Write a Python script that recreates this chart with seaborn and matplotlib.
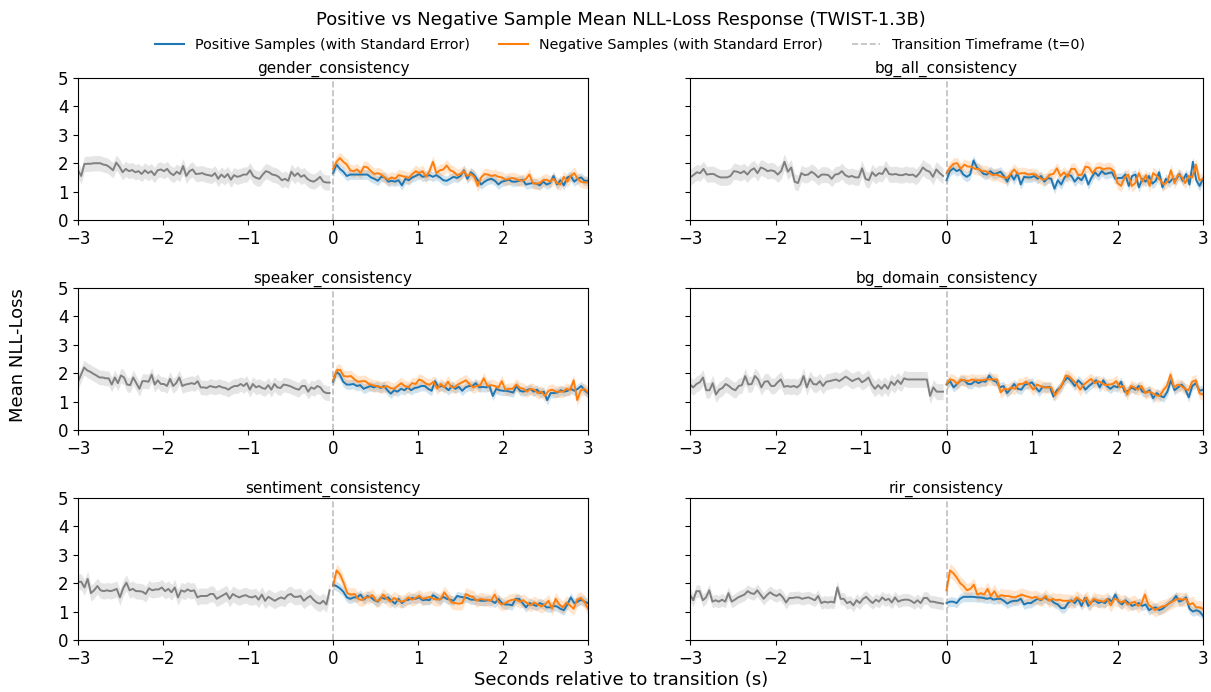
import numpy as np
import matplotlib
matplotlib.use("Agg")
import matplotlib.pyplot as plt
import seaborn as sns
import pandas as pd
from matplotlib.lines import Line2D

panel_names = ["gender_consistency", "bg_all_consistency", "speaker_consistency",
               "bg_domain_consistency", "sentiment_consistency", "rir_consistency"]

gender_pre = [1.75, 1.55, 1.97, 1.98, 1.98, 2.0, 2.0, 2.0, 1.95, 1.93, 1.85, 1.75, 2.02, 1.88, 1.68, 1.8, 1.72, 1.76, 1.68, 1.72, 1.62, 1.75, 1.65, 1.72, 1.58, 1.75, 1.78, 1.72, 1.8, 1.65, 1.58, 1.7, 1.62, 1.9, 1.55, 1.72, 1.78, 1.62, 1.63, 1.65, 1.6, 1.58, 1.55, 1.65, 1.45, 1.6, 1.5, 1.62, 1.42, 1.58, 1.52, 1.55, 1.6, 1.6, 1.75, 1.55, 1.48, 1.45, 1.6, 1.72, 1.68, 1.6, 1.58, 1.52, 1.4, 1.45, 1.38, 1.7, 1.55, 1.65, 1.52, 1.58, 1.45, 1.38, 1.35, 1.42, 1.52, 1.35, 1.32, 1.32]
gender_pos = [1.65, 1.95, 1.8, 1.7, 1.55, 1.6, 1.6, 1.6, 1.6, 1.6, 1.6, 1.5, 1.45, 1.38, 1.52, 1.5, 1.35, 1.38, 1.35, 1.4, 1.22, 1.45, 1.4, 1.5, 1.55, 1.62, 1.52, 1.55, 1.58, 1.52, 1.58, 1.5, 1.4, 1.38, 1.45, 1.52, 1.48, 1.55, 1.75, 1.45, 1.68, 1.58, 1.4, 1.25, 1.35, 1.42, 1.45, 1.38, 1.25, 1.35, 1.38, 1.42, 1.35, 1.35, 1.38, 1.42, 1.25, 1.28, 1.3, 1.28, 1.22, 1.35, 1.25, 1.3, 1.55, 1.25, 1.4, 1.22, 1.5, 1.55, 1.35, 1.45, 1.5, 1.38, 1.38]
gender_neg = [1.8, 2.05, 2.18, 2.05, 1.95, 1.75, 1.72, 1.78, 1.65, 1.88, 1.85, 1.72, 1.62, 1.65, 1.6, 1.5, 1.42, 1.5, 1.45, 1.58, 1.55, 1.52, 1.48, 1.62, 1.72, 1.65, 1.72, 1.52, 1.72, 2.05, 1.65, 1.75, 1.78, 1.92, 1.75, 1.7, 1.58, 1.62, 1.72, 1.55, 1.62, 1.52, 1.2, 1.5, 1.62, 1.6, 1.55, 1.58, 1.52, 1.5, 1.42, 1.45, 1.48, 1.45, 1.4, 1.38, 1.45, 1.6, 1.3, 1.28, 1.3, 1.4, 1.42, 1.35, 1.45, 1.3, 1.25, 1.52, 1.35, 1.55, 1.65, 1.45, 1.35, 1.32, 1.32]

bgall_pre = [1.5, 1.58, 1.68, 1.65, 1.8, 1.6, 1.62, 1.62, 1.55, 1.5, 1.5, 1.5, 1.55, 1.72, 1.7, 1.65, 1.72, 1.6, 1.75, 1.82, 1.65, 1.85, 1.8, 1.72, 1.75, 1.72, 1.6, 1.72, 2.05, 1.7, 1.85, 1.35, 1.3, 1.65, 1.58, 1.6, 1.7, 1.62, 1.5, 1.6, 1.6, 1.58, 1.45, 1.6, 1.62, 1.72, 1.58, 1.52, 1.55, 1.5, 1.5, 1.82, 1.45, 1.4, 1.68, 1.55, 1.65, 1.62, 1.82, 1.62, 1.6, 1.62, 1.58, 1.58, 1.62, 1.58, 1.6, 1.52, 1.65, 1.85, 1.75, 1.7, 1.52, 1.78, 1.65, 1.55]
bgall_pos = [1.4, 1.72, 1.82, 1.72, 1.78, 1.6, 1.52, 1.6, 2.1, 1.85, 1.75, 1.62, 1.6, 1.72, 1.62, 1.65, 1.7, 1.55, 1.35, 1.62, 1.42, 1.65, 1.25, 1.52, 1.5, 1.5, 1.55, 1.45, 1.55, 1.35, 1.48, 1.45, 1.1, 1.4, 1.25, 1.5, 1.6, 1.55, 1.35, 1.5, 1.4, 1.6, 1.25, 1.5, 1.68, 1.55, 1.72, 1.62, 1.65, 1.68, 1.45, 1.48, 1.48, 1.6, 1.2, 1.55, 1.6, 1.15, 1.45, 1.35, 1.55, 1.28, 1.38, 1.68, 1.15, 1.45, 1.32, 1.45, 1.42, 1.62, 1.38, 1.62, 1.25, 2.05, 1.4, 1.2, 1.45]
bgall_neg = [1.65, 1.85, 1.98, 2.0, 1.8, 1.95, 1.88, 1.88, 1.8, 1.8, 1.72, 1.72, 1.65, 1.58, 1.6, 1.55, 1.5, 1.48, 1.62, 1.78, 1.62, 1.65, 1.65, 1.6, 1.62, 1.6, 1.5, 1.42, 1.45, 1.6, 1.62, 1.82, 1.55, 1.68, 1.52, 1.8, 1.8, 1.58, 1.6, 1.88, 1.85, 1.65, 1.82, 1.85, 1.78, 1.82, 1.82, 1.72, 1.3, 1.2, 1.5, 1.6, 1.2, 1.3, 1.65, 1.35, 1.58, 1.2, 1.65, 1.55, 1.4, 1.25, 1.35, 1.75, 1.3, 1.6, 1.52, 1.3, 1.55, 1.5, 1.95, 1.4, 1.45]

speaker_pre = [1.7, 1.95, 2.2, 2.1, 2.05, 1.98, 1.92, 1.85, 1.85, 1.82, 1.82, 1.6, 1.85, 1.65, 1.92, 1.85, 1.6, 1.58, 1.85, 1.65, 1.45, 1.72, 1.72, 1.7, 1.95, 1.6, 1.75, 1.62, 1.62, 1.55, 1.8, 1.55, 1.65, 1.85, 1.55, 1.6, 1.62, 1.65, 1.62, 1.72, 1.5, 1.5, 1.48, 1.55, 1.52, 1.5, 1.55, 1.5, 1.48, 1.42, 1.5, 1.55, 1.55, 1.62, 1.55, 1.65, 1.42, 1.62, 1.5, 1.55, 1.48, 1.45, 1.58, 1.42, 1.62, 1.5, 1.48, 1.6, 1.58, 1.55, 1.5, 1.45, 1.42, 1.55, 1.55, 1.35, 1.5, 1.45, 1.55, 1.5, 1.35, 1.3, 1.3]
speaker_pos = [1.7, 2.05, 1.95, 1.7, 1.6, 1.6, 1.62, 1.55, 1.58, 1.45, 1.5, 1.55, 1.5, 1.55, 1.48, 1.55, 1.4, 1.28, 1.4, 1.35, 1.45, 1.4, 1.5, 1.4, 1.48, 1.5, 1.55, 1.55, 1.45, 1.38, 1.72, 1.52, 1.55, 1.5, 1.4, 1.55, 1.45, 1.52, 1.38, 1.5, 1.55, 1.55, 1.65, 1.5, 1.52, 1.5, 1.55, 1.2, 1.45, 1.4, 1.38, 1.38, 1.35, 1.32, 1.55, 1.38, 1.35, 1.4, 1.45, 1.35, 1.42, 1.3, 1.35, 1.05, 1.3, 1.3, 1.32, 1.4, 1.35, 1.38, 1.45, 1.38, 1.45, 1.55, 1.4, 1.3]
speaker_neg = [1.75, 2.1, 2.12, 1.9, 1.88, 1.9, 1.78, 1.7, 1.72, 1.72, 1.62, 1.58, 1.55, 1.52, 1.5, 1.55, 1.48, 1.45, 1.55, 1.65, 1.55, 1.5, 1.65, 1.62, 1.78, 1.72, 1.62, 1.6, 1.7, 1.45, 1.62, 1.5, 1.7, 1.5, 1.52, 1.62, 1.68, 1.75, 1.62, 1.5, 1.55, 1.58, 1.82, 1.55, 1.58, 1.55, 1.48, 1.72, 1.42, 1.45, 1.45, 1.6, 1.48, 1.45, 1.35, 1.45, 1.42, 1.3, 1.35, 1.2, 1.38, 1.42, 1.35, 1.35, 1.35, 1.45, 1.4, 1.75, 1.05, 1.4, 1.45, 1.32]

bgdom_pre = [1.6, 1.5, 1.62, 1.68, 1.85, 1.4, 1.4, 1.65, 1.25, 1.42, 1.48, 1.62, 1.55, 1.45, 1.4, 1.55, 1.58, 1.9, 1.6, 1.62, 1.9, 1.78, 1.5, 1.7, 1.72, 1.55, 1.55, 1.68, 1.78, 1.52, 1.55, 1.52, 1.55, 1.5, 1.6, 1.9, 1.5, 1.8, 1.62, 1.6, 1.72, 1.55, 1.7, 1.72, 1.75, 1.78, 1.72, 1.8, 1.88, 1.8, 1.72, 1.78, 1.82, 1.68, 1.75, 1.85, 1.6, 1.45, 1.58, 1.45, 1.6, 1.45, 1.7, 1.58, 1.75, 1.62, 1.82, 1.78, 1.78, 1.78, 1.78, 1.78, 1.78, 1.78, 1.2, 1.5, 1.35, 1.35, 1.35]
bgdom_pos = [1.6, 1.72, 1.5, 1.62, 1.75, 1.75, 1.62, 1.62, 1.72, 1.65, 1.72, 1.7, 1.92, 1.75, 1.7, 1.5, 1.55, 1.3, 1.45, 1.62, 1.45, 1.42, 1.6, 1.62, 1.68, 1.5, 1.35, 1.52, 1.5, 1.52, 1.18, 1.4, 1.5, 1.72, 1.85, 1.72, 1.55, 1.75, 1.62, 1.42, 1.55, 1.65, 1.75, 1.5, 1.75, 1.55, 1.45, 1.55, 1.5, 1.7, 1.35, 1.38, 1.5, 1.42, 1.55, 1.35, 1.32, 1.4, 1.12, 1.3, 1.2, 1.15, 1.35, 1.75, 1.4, 1.5, 1.6, 1.45, 1.15, 1.55, 1.65, 1.38, 1.42]
bgdom_neg = [1.62, 1.78, 1.75, 1.62, 1.78, 1.75, 1.72, 1.78, 1.75, 1.75, 1.75, 1.78, 1.78, 1.78, 1.78, 1.32, 1.45, 1.42, 1.5, 1.45, 1.62, 1.62, 1.7, 1.6, 1.42, 1.6, 1.55, 1.5, 1.5, 1.5, 1.22, 1.4, 1.6, 1.92, 1.88, 1.75, 1.62, 1.42, 1.6, 1.7, 1.8, 1.65, 1.72, 1.65, 1.58, 1.6, 1.62, 1.72, 1.5, 1.55, 1.25, 1.55, 1.5, 1.42, 1.55, 1.3, 1.35, 1.3, 1.22, 1.2, 1.4, 1.55, 1.95, 1.5, 1.6, 1.55, 1.45, 1.4, 1.7, 1.75, 1.3, 1.25]

sentiment_pre = [2.05, 2.05, 1.85, 2.15, 1.65, 1.75, 1.9, 1.75, 1.72, 1.75, 1.72, 1.75, 1.8, 1.5, 1.82, 2.02, 1.75, 1.8, 1.72, 1.72, 1.7, 1.62, 1.82, 1.75, 1.78, 1.78, 1.85, 1.72, 1.8, 1.68, 1.85, 1.5, 1.75, 1.7, 1.78, 1.72, 1.75, 1.5, 1.55, 1.55, 1.55, 1.62, 1.62, 1.45, 1.52, 1.58, 1.65, 1.45, 1.62, 1.55, 1.5, 1.55, 1.58, 1.52, 1.5, 1.55, 1.42, 1.6, 1.38, 1.52, 1.45, 1.38, 1.45, 1.5, 1.45, 1.58, 1.62, 1.52, 1.52, 1.55, 1.38, 1.48, 1.55, 1.42, 1.32, 1.28, 1.38, 1.25, 1.75]
sentiment_pos = [1.95, 1.9, 1.82, 1.7, 1.5, 1.45, 1.5, 1.5, 1.6, 1.42, 1.55, 1.5, 1.4, 1.35, 1.5, 1.45, 1.5, 1.38, 1.28, 1.45, 1.3, 1.4, 1.42, 1.48, 1.45, 1.5, 1.4, 1.42, 1.4, 1.58, 1.5, 1.42, 1.52, 1.45, 1.42, 1.38, 1.55, 1.52, 1.5, 1.48, 1.42, 1.42, 1.4, 1.38, 1.38, 1.4, 1.38, 1.3, 1.45, 1.3, 1.25, 1.25, 1.22, 1.45, 1.45, 1.3, 1.15, 1.3, 1.25, 1.2, 1.3, 1.25, 1.15, 1.15, 1.2, 1.18, 1.1, 1.05, 1.25, 1.5, 1.3, 1.35, 1.42, 1.35, 1.3]
sentiment_neg = [1.9, 2.45, 2.3, 2.0, 1.65, 1.6, 1.62, 1.45, 1.4, 1.5, 1.5, 1.58, 1.38, 1.4, 1.6, 1.45, 1.35, 1.48, 1.4, 1.35, 1.38, 1.5, 1.42, 1.48, 1.55, 1.45, 1.48, 1.52, 1.45, 1.42, 1.45, 1.68, 1.5, 1.32, 1.3, 1.28, 1.3, 1.62, 1.55, 1.52, 1.38, 1.45, 1.42, 1.42, 1.38, 1.6, 1.35, 1.25, 1.3, 1.38, 1.42, 1.42, 1.35, 1.4, 1.3, 1.22, 1.32, 1.25, 1.18, 1.25, 1.38, 1.1, 1.45, 1.25, 1.15, 1.32, 1.22, 1.1, 1.42, 1.48, 1.35, 1.1]

rir_pre = [1.6, 1.4, 1.72, 1.72, 1.4, 1.5, 1.75, 1.35, 1.4, 1.35, 1.42, 1.35, 1.65, 1.35, 1.42, 1.5, 1.55, 1.6, 1.72, 1.65, 1.62, 1.75, 1.6, 1.45, 1.58, 1.68, 1.6, 1.55, 1.62, 1.5, 1.32, 1.48, 1.48, 1.5, 1.5, 1.45, 1.48, 1.5, 1.45, 1.4, 1.55, 1.3, 1.35, 1.32, 1.35, 1.32, 1.85, 1.45, 1.45, 1.3, 1.35, 1.22, 1.4, 1.3, 1.45, 1.52, 1.4, 1.3, 1.42, 1.35, 1.5, 1.4, 1.45, 1.32, 1.5, 1.35, 1.4, 1.42, 1.42, 1.38, 1.3, 1.4, 1.3, 1.48, 1.48, 1.35, 1.35, 1.32, 1.3, 1.28]
rir_pos = [1.3, 1.35, 1.35, 1.3, 1.45, 1.52, 1.52, 1.52, 1.52, 1.5, 1.5, 1.48, 1.45, 1.48, 1.42, 1.45, 1.45, 1.38, 1.28, 1.35, 1.38, 1.38, 1.45, 1.25, 1.3, 1.3, 1.38, 1.45, 1.4, 1.5, 1.42, 1.4, 1.3, 1.25, 1.12, 1.12, 1.3, 1.4, 1.3, 1.45, 1.2, 1.48, 1.2, 1.35, 1.4, 1.3, 1.35, 1.3, 1.45, 1.35, 1.6, 1.35, 1.25, 1.4, 1.3, 1.2, 1.25, 1.3, 1.2, 1.25, 1.05, 1.12, 1.15, 1.05, 1.1, 1.2, 1.3, 1.38, 1.55, 1.35, 1.4, 1.5, 1.1, 1.0, 1.05, 1.0, 0.85]
rir_neg = [1.75, 2.45, 2.35, 2.2, 2.0, 1.9, 1.75, 1.8, 1.95, 1.6, 1.65, 1.6, 1.8, 1.55, 1.72, 1.5, 1.58, 1.55, 1.55, 1.52, 1.5, 1.55, 1.6, 1.55, 1.52, 1.48, 1.52, 1.45, 1.42, 1.55, 1.38, 1.45, 1.4, 1.42, 1.38, 1.38, 1.38, 1.35, 1.5, 1.42, 1.35, 1.5, 1.25, 1.45, 1.4, 1.38, 1.35, 1.45, 1.22, 1.45, 1.42, 1.32, 1.38, 1.25, 1.3, 1.35, 1.2, 1.28, 1.6, 1.25, 1.15, 1.05, 1.12, 1.18, 1.2, 1.28, 1.35, 1.42, 1.45, 1.42, 1.45, 1.25, 1.3, 1.15, 1.15, 1.1]

# standard error half-widths (approximate, per panel)
se_pre = [0.27, 0.28, 0.26, 0.28, 0.28, 0.22]
se_pos = [0.17, 0.18, 0.17, 0.17, 0.17, 0.17]
se_neg = [0.21, 0.21, 0.21, 0.21, 0.23, 0.24]

pre_list = [gender_pre, bgall_pre, speaker_pre, bgdom_pre, sentiment_pre, rir_pre]
pos_list = [gender_pos, bgall_pos, speaker_pos, bgdom_pos, sentiment_pos, rir_pos]
neg_list = [gender_neg, bgall_neg, speaker_neg, bgdom_neg, sentiment_neg, rir_neg]

BLUE = "#1f77b4"
ORANGE = "#ff7f0e"
GRAY = "gray"

W, H = 1211, 692
fig = plt.figure(figsize=(W / 100, H / 100), dpi=100)

lefts = [78, 690]
widths = [510, 513]
tops = [78, 288, 498]
ph = 142

for i, name in enumerate(panel_names):
    r, c = divmod(i, 2)
    ax = fig.add_axes([lefts[c] / W, 1 - (tops[r] + ph) / H, widths[c] / W, ph / H])
    pre = np.array(pre_list[i]); pos = np.array(pos_list[i]); neg = np.array(neg_list[i])
    xp = np.linspace(-3, -0.04, len(pre))
    xpos = np.linspace(0, 3, len(pos))
    xneg = np.linspace(0, 3, len(neg))
    ax.fill_between(xp, pre - se_pre[i], pre + se_pre[i], color=GRAY, alpha=0.2, lw=0)
    ax.fill_between(xpos, pos - se_pos[i], pos + se_pos[i], color=BLUE, alpha=0.2, lw=0)
    ax.fill_between(xneg, neg - se_neg[i], neg + se_neg[i], color=ORANGE, alpha=0.2, lw=0)
    sns.lineplot(x=xp, y=pre, ax=ax, color=GRAY, lw=1.4, errorbar=None)
    sns.lineplot(x=xpos, y=pos, ax=ax, color=BLUE, lw=1.4, errorbar=None)
    sns.lineplot(x=xneg, y=neg, ax=ax, color=ORANGE, lw=1.4, errorbar=None)
    ax.axvline(0, color="gray", linestyle="--", alpha=0.5, lw=1.2)
    ax.set_xlim(-3, 3)
    ax.set_ylim(0, 5)
    ax.set_yticks([0, 1, 2, 3, 4, 5])
    ax.set_xticks([-3, -2, -1, 0, 1, 2, 3])
    ax.tick_params(labelsize=12)
    if c == 1:
        ax.set_yticklabels([])
    ax.set_title(name, fontsize=11, pad=4)
    ax.set_xlabel("")
    ax.set_ylabel("")

fig.text(0.513, 0.971, "Positive vs Negative Sample Mean NLL-Loss Response (TWIST-1.3B)",
         ha="center", va="center", fontsize=13)
handles = [Line2D([0], [0], color=BLUE, lw=1.5),
           Line2D([0], [0], color=ORANGE, lw=1.5),
           Line2D([0], [0], color="gray", lw=1.2, linestyle="--", alpha=0.5)]
labels = ["Positive Samples (with Standard Error)", "Negative Samples (with Standard Error)",
          "Transition Timeframe (t=0)"]
fig.legend(handles, labels, loc="center", bbox_to_anchor=(0.512, 0.935), ncol=3,
           frameon=False, fontsize=10.3, columnspacing=2.0, handlelength=2.0,
           handletextpad=0.8)
fig.text(0.015, 0.487, "Mean NLL-Loss", rotation=90, ha="center", va="center", fontsize=13)
fig.text(0.513, 0.017, "Seconds relative to transition (s)", ha="center", va="center", fontsize=13)

fig.savefig("out.png", dpi=100)
